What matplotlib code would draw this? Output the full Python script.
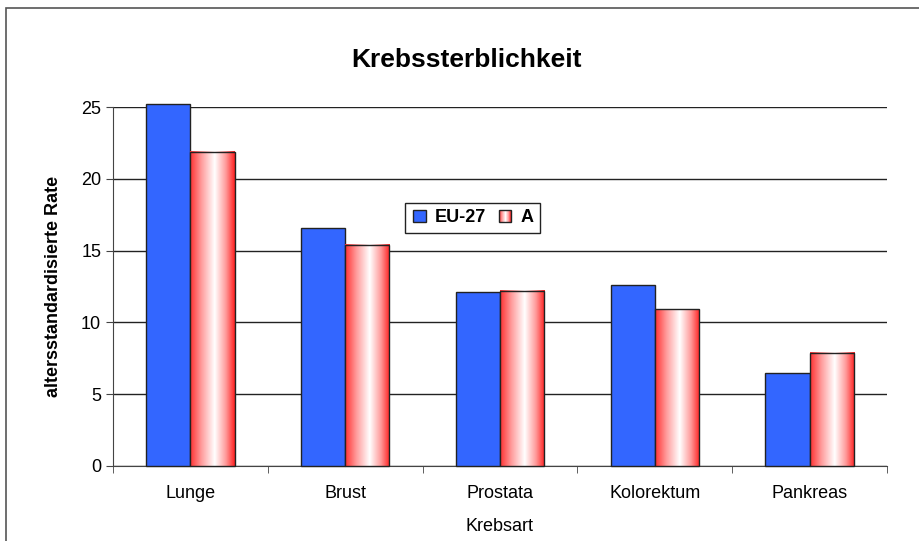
import numpy as np
import matplotlib
matplotlib.use("Agg")
import matplotlib.pyplot as plt
from matplotlib.patches import Rectangle
from matplotlib.legend_handler import HandlerBase
from matplotlib.colors import LinearSegmentedColormap

plt.rcParams['font.family'] = ['Liberation Sans', 'DejaVu Sans']

categories = ["Lunge", "Brust", "Prostata", "Kolorektum", "Pankreas"]
eu27 = [25.2, 16.6, 12.1, 12.6, 6.5]
austria = [21.9, 15.4, 12.2, 10.9, 7.9]

red_white = LinearSegmentedColormap.from_list(
    "rw", [(0.0, "#ff3030"), (0.25, "#ff9a9a"), (0.55, "#ffffff"), (0.8, "#ff9a9a"), (1.0, "#ff2020")])

fig = plt.figure(figsize=(9.2, 5.41), dpi=100)
ax = fig.add_axes([113 / 920, 1 - 466 / 541, 774 / 920, 359 / 541])

x = np.arange(len(categories))
w = 0.285
bars_eu = ax.bar(x - w / 2, eu27, width=w, color="#3366ff", edgecolor="#222222", linewidth=1, zorder=3,
                 label="EU-27", clip_on=False)
bars_a = ax.bar(x + w / 2, austria, width=w, color="none", edgecolor="#222222", linewidth=1, zorder=4,
                label="A", clip_on=False)

grad = np.linspace(0, 1, 256).reshape(1, -1)
for b in bars_a:
    x0, y0 = b.get_x(), b.get_y()
    im = ax.imshow(grad, cmap=red_white, aspect="auto", extent=[x0, x0 + b.get_width(), y0, y0 + b.get_height()],
                   zorder=3, clip_on=False)
ax.set_xlim(-0.5, len(categories) - 0.5)
ax.set_ylim(0, 25)

ax.set_yticks([0, 5, 10, 15, 20, 25])
ax.yaxis.grid(True, color="#222222", linewidth=1)
ax.set_axisbelow(True)
ax.set_xticks(x)
ax.set_xticklabels(categories, fontsize=13)
ax.set_xticks(np.arange(len(categories) + 1) - 0.5, minor=True)
ax.tick_params(axis="x", which="major", length=0, pad=14)
ax.tick_params(axis="x", which="minor", length=5, color="#444444")
ax.tick_params(axis="y", length=5, labelsize=13, color="#444444")
for s in ["top", "right"]:
    ax.spines[s].set_visible(False)
ax.spines["left"].set_color("#444444")
ax.spines["bottom"].set_color("#444444")

ax.set_xlabel("Krebsart", fontsize=13, labelpad=11)
ax.set_ylabel("altersstandardisierte Rate", fontsize=13, fontweight="bold", labelpad=14)
fig.text(467 / 920, 1 - 60 / 541, "Krebssterblichkeit", fontsize=19, fontweight="bold", ha="center", va="center")


class GradientHandler(HandlerBase):
    def create_artists(self, legend, orig, xd, yd, width, height, fontsize, trans):
        arts = []
        n = 12
        side = height
        x0 = xd + (width - side) / 2
        for i in range(n):
            r = Rectangle((x0 + i * side / n, -yd), side / n, side, facecolor=red_white((i + 0.5) / n),
                          edgecolor="none", transform=trans)
            arts.append(r)
        arts.append(Rectangle((x0, -yd), side, side, facecolor="none", edgecolor="#222222", linewidth=1, transform=trans))
        return arts


class SquareHandler(HandlerBase):
    def create_artists(self, legend, orig, xd, yd, width, height, fontsize, trans):
        side = height
        x0 = xd + (width - side) / 2
        return [Rectangle((x0, -yd), side, side, facecolor="#3366ff", edgecolor="#222222", linewidth=1, transform=trans)]


leg = ax.legend([bars_eu, bars_a], ["EU-27", "A"], ncol=2, loc="upper left",
                bbox_to_anchor=(396 / 920, 1 - 194 / 541), bbox_transform=fig.transFigure,
                handler_map={bars_eu: SquareHandler(), bars_a: GradientHandler()},
                prop={"weight": "bold", "size": 13}, frameon=True, fancybox=False,
                edgecolor="#222222", handlelength=0.9, handletextpad=0.4, columnspacing=0.6,
                borderpad=0.35, framealpha=1)
leg.get_frame().set_linewidth(1)

fig.patches.append(Rectangle((6 / 920, -0.1), 2, 1.1 - 8 / 541, transform=fig.transFigure,
                             facecolor="none", edgecolor="#555555", linewidth=1.2))

fig.savefig("out.png", dpi=100)
